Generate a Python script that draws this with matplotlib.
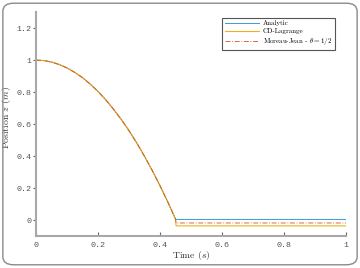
import matplotlib
matplotlib.use("Agg")
import matplotlib.pyplot as plt
from matplotlib.patches import FancyBboxPatch

plt.rcParams['mathtext.fontset'] = 'cm'

# free-fall phase
t_fall = [0, 0.025, 0.05, 0.075, 0.1, 0.125, 0.15, 0.175, 0.2, 0.225, 0.25,
          0.275, 0.3, 0.325, 0.35, 0.375, 0.4, 0.425, 0.45]
z_fall = [1.0, 0.997, 0.988, 0.972, 0.951, 0.923, 0.890, 0.850, 0.804, 0.752,
          0.693, 0.629, 0.559, 0.482, 0.399, 0.310, 0.215, 0.114, 0.007]

# resting phase after impact
t_rest = [0.452, 1.0]
z_rest_analytic = [0.004, 0.004]
z_rest_cd = [-0.036, -0.036]
z_rest_mj = [-0.018, -0.018]

x_ticks = [0, 0.2, 0.4, 0.6, 0.8, 1]
x_labels = ['0', '0.2', '0.4', '0.6', '0.8', '1']
y_ticks = [0, 0.2, 0.4, 0.6, 0.8, 1, 1.2]
y_labels = ['0', '0.2', '0.4', '0.6', '0.8', '1', '1.2']

fig = plt.figure(figsize=(3.6, 2.68), dpi=100)
ax = fig.add_axes([0.1, 0.119, 0.861, 0.836])

c_an = '#3a9ad9'
c_cd = '#EDB120'
c_mj = '#D95319'

ax.plot(t_fall + t_rest, z_fall + z_rest_analytic, color=c_an, lw=0.7,
        label='Analytic')
ax.plot(t_fall + t_rest, z_fall + z_rest_cd, color=c_cd, lw=0.8,
        label='CD-Lagrange')
ax.plot(t_fall + t_rest, z_fall + z_rest_mj, color=c_mj, lw=0.6,
        ls=(0, (6, 2, 1, 2)), label=r'Moreau-Jean - $\theta = 1/2$')

ax.set_xlim(0, 1)
ax.set_ylim(-0.1, 1.3)
ax.set_xticks(x_ticks)
ax.set_xticklabels(x_labels)
ax.set_yticks(y_ticks)
ax.set_yticklabels(y_labels)

for sp in ['top', 'right']:
    ax.spines[sp].set_visible(False)
for sp in ['left', 'bottom']:
    ax.spines[sp].set_color('#a8a8a8')
    ax.spines[sp].set_linewidth(1.5)

ax.tick_params(axis='x', direction='in', length=3, width=0.8, color='#666666',
               labelcolor='#555555', labelsize=6, pad=4)
ax.tick_params(axis='y', direction='out', length=2.5, width=0.8, color='#666666',
               labelcolor='#555555', labelsize=6, pad=0.8)
for lab in ax.get_xticklabels() + ax.get_yticklabels():
    lab.set_family('Liberation Mono')

ax.set_xlabel(r'Time $(s)$', family='cmr10', fontsize=7, color='#333333',
              labelpad=0)
ax.set_ylabel(r'Position $z$ $(m)$', family='cmr10', fontsize=7,
              color='#333333')
ax.yaxis.set_label_coords(-0.074, 0.53)

leg = ax.legend(loc='upper right', frameon=True, fancybox=False,
                edgecolor='#555555', framealpha=1, handlelength=5.0,
                borderpad=0.35, labelspacing=0.3, handletextpad=0.5,
                bbox_to_anchor=(0.975, 0.99), prop={'family': 'cmr10', 'size': 5})
leg.get_frame().set_linewidth(0.8)

border = FancyBboxPatch((0.008, 0.012), 0.984, 0.976,
                        boxstyle='round,pad=0,rounding_size=0.03',
                        transform=fig.transFigure, fill=False,
                        edgecolor='#8a8a8a', linewidth=1.0)
fig.patches.append(border)

fig.savefig('out.png', dpi=100)
